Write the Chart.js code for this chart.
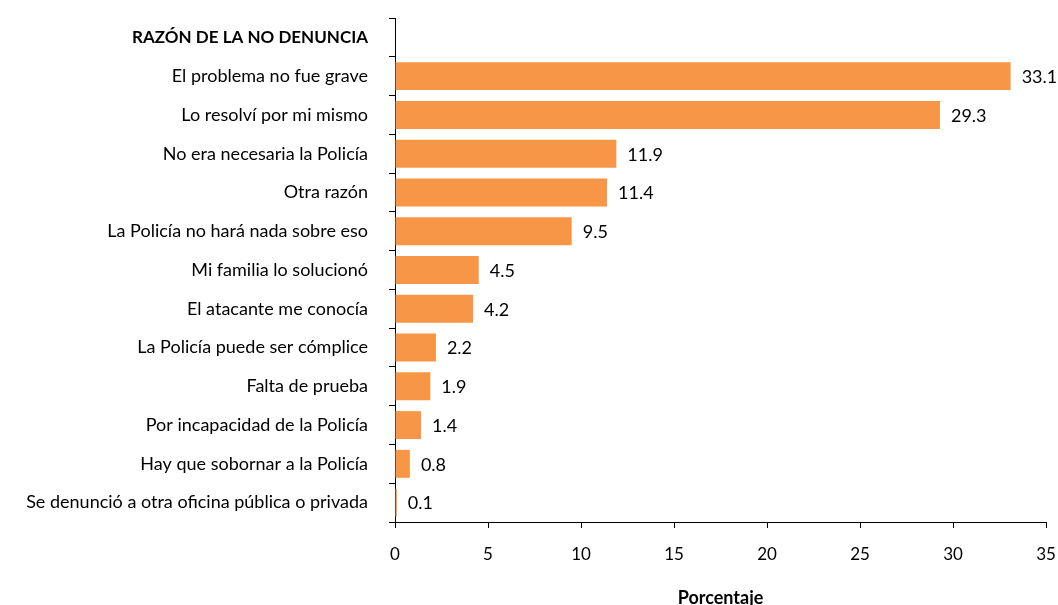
<!DOCTYPE html>
<html>
<head>
<meta charset="utf-8">
<script src="https://cdn.jsdelivr.net/npm/chart.js@4.4.0/dist/chart.umd.min.js"></script>
<style>
  html, body { margin: 0; padding: 0; background: #fff; }
  canvas { display: block; }
</style>
</head>
<body>
<canvas id="chart" width="1058" height="605"></canvas>
<script>
// Datos del gráfico
const headerLabel = 'RAZÓN DE LA NO DENUNCIA';
const reasons = [
    'El problema no fue grave',
    'Lo resolví por mi mismo',
    'No era necesaria la Policía',
    'Otra razón',
    'La Policía no hará nada sobre eso',
    'Mi familia lo solucionó',
    'El atacante me conocía',
    'La Policía puede ser cómplice',
    'Falta de prueba',
    'Por incapacidad de la Policía',
    'Hay que sobornar a la Policía',
    'Se denunció a otra oficina pública o privada'
];
const percentages = [33.1, 29.3, 11.9, 11.4, 9.5, 4.5, 4.2, 2.2, 1.9, 1.4, 0.8, 0.1];
const xTicks = [0, 5, 10, 15, 20, 25, 30, 35];
const axisTitle = 'Porcentaje';

const FONT = 'Lato, "Open Sans", sans-serif';

// Etiquetas de valor al final de cada barra
const valueLabels = {
    id: 'valueLabels',
    afterDatasetsDraw(chart) {
        const ctx = chart.ctx;
        const meta = chart.getDatasetMeta(0);
        ctx.save();
        ctx.font = '18px ' + FONT;
        ctx.fillStyle = '#000';
        ctx.textAlign = 'left';
        ctx.textBaseline = 'middle';
        meta.data.forEach((bar, i) => {
            const v = chart.data.datasets[0].data[i];
            if (v === null) return;
            ctx.fillText(v.toFixed(1), bar.x + 11, bar.y + 1);
        });
        ctx.restore();
    }
};

// Sin margen extra por las etiquetas de los extremos
const noEdgePadding = scale => {
    scale.paddingTop = 0;
    scale.paddingBottom = 0;
    scale.paddingLeft = 0;
    scale.paddingRight = 0;
};

new Chart(document.getElementById('chart').getContext('2d'), {
    type: 'bar',
    data: {
        labels: [headerLabel, ...reasons],
        datasets: [{
            data: [null, ...percentages],
            backgroundColor: '#F79646',
            borderWidth: 0,
            barPercentage: 0.72,
            categoryPercentage: 1
        }]
    },
    options: {
        indexAxis: 'y',
        responsive: false,
        animation: false,
        layout: { padding: { top: 18, right: 12, left: 0, bottom: 0 } },
        plugins: {
            legend: { display: false },
            tooltip: { enabled: false }
        },
        scales: {
            x: {
                min: 0,
                max: 35,
                afterBuildTicks: scale => { scale.ticks = xTicks.map(v => ({ value: v })); },
                afterFit: scale => { scale.height = 83; noEdgePadding(scale); },
                grid: { drawOnChartArea: false, tickLength: 6, color: '#000' },
                border: { color: '#000', width: 1 },
                ticks: {
                    color: '#000',
                    padding: 16,
                    font: { family: FONT, size: 17 }
                },
                title: {
                    display: true,
                    text: axisTitle,
                    color: '#000',
                    font: { family: FONT, size: 18, weight: 'bold' },
                    padding: { top: 0, bottom: -4 }
                }
            },
            y: {
                afterFit: scale => { scale.width = 395; noEdgePadding(scale); },
                grid: { drawOnChartArea: false, tickLength: 6, color: '#000', offset: true },
                border: { color: '#000', width: 1 },
                ticks: {
                    color: '#000',
                    padding: 21,
                    autoSkip: false,
                    font: ctx => ctx.index === 0
                        ? { family: FONT, size: 17, weight: 'bold' }
                        : { family: FONT, size: 18 }
                }
            }
        }
    },
    plugins: [valueLabels]
});
</script>
</body>
</html>
